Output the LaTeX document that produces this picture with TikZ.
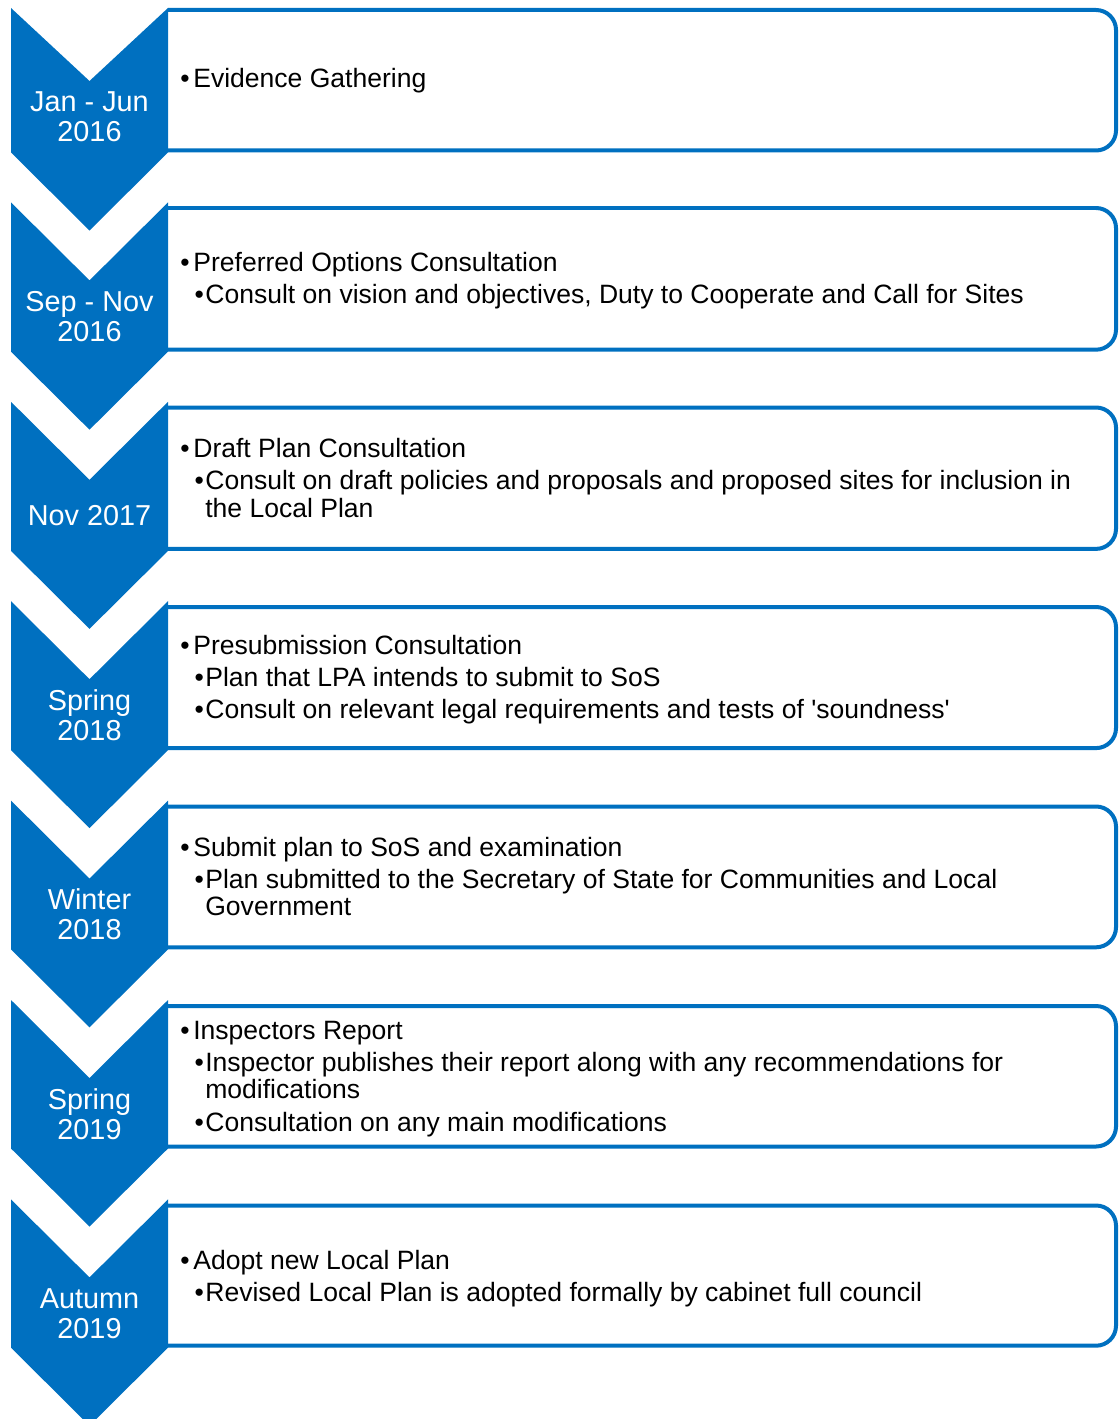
\documentclass[tikz,border=0pt]{standalone}
\usepackage{fontspec}
\setmainfont{Liberation Sans}
\usepackage{tikz}
\definecolor{planblue}{RGB}{0,112,192}

\begin{document}
\begin{tikzpicture}[x=0.02cm,y=-0.02cm,
        chev/.style={fill=planblue},
        stagebox/.style={draw=planblue,line width=0.08cm,rounded corners=0.4cm},
        when/.style={text=white,align=center,inner sep=0,font=\fontsize{16.4}{17.07}\selectfont},
        item/.style={anchor=base west,inner sep=0,font=\fontsize{15.1}{16}\selectfont},
        dot/.style={anchor=base,inner sep=0,font=\fontsize{15.1}{16}\selectfont}]
            \useasboundingbox (0,0) rectangle (1119,1419);
            \clip (0,0) rectangle (1119,1419);

            \foreach \k in {0,...,6}{
                \pgfmathsetmacro\btop{max(10,8.5+199.5*\k)}
                \pgfmathsetmacro\bbot{150.5+199.2*\k}
                \draw[stagebox] (168,\btop) -- (1116,\btop) -- (1116,\bbot) -- (168,\bbot);
            }

            \foreach \k/\when in {0/{Jan - Jun\\2016},1/{Sep - Nov\\2016},2/{Nov 2017},
                    3/{Spring\\2018},4/{Winter\\2018},5/{Spring\\2019},6/{Autumn\\2019}}{
                \pgfmathsetmacro\ytop{max(8,3+199.4*\k)}
                \pgfmathsetmacro\ynotch{81+199.4*\k}
                \pgfmathsetmacro\ybot{152.5+199.2*\k}
                \fill[chev] (11,\ytop) -- (89.5,\ynotch) -- (168,\ytop) -- (168,\ybot)
                    -- (89.5,\ybot+78) -- (11,\ybot) -- cycle;
                \node[when] (when\k) at (89.5,{117+199.4*\k}) {\when};
            }

            \foreach \y/\txt [count=\i] in {88/Evidence Gathering,271/Preferred Options Consultation,
                    457/Draft Plan Consultation,654/Presubmission Consultation,
                    856/Submit plan to SoS and examination,1039/Inspectors Report,1269/Adopt new Local Plan}{
                \node[dot] (dota\i) at (185,\y) {\textbullet};
                \node[item] (itema\i) at (193,\y) {\txt};
            }

            \foreach \y/\txt [count=\i] in {303/{Consult on vision and objectives, Duty to Cooperate and Call for Sites},
                    489/{Consult on draft policies and proposals and proposed sites for inclusion in},
                    686/{Plan that LPA intends to submit to SoS},
                    718/{Consult on relevant legal requirements and tests of \textquotesingle soundness\textquotesingle},
                    888/{Plan submitted to the Secretary of State for Communities and Local},
                    1071/{Inspector publishes their report along with any recommendations for},
                    1131/{Consultation on any main modifications},
                    1301/{Revised Local Plan is adopted formally by cabinet full council}}{
                \node[dot] (dotb\i) at (199.3,\y) {\textbullet};
                \node[item] (itemb\i) at (205,\y) {\txt};
            }

            \foreach \y/\txt [count=\i] in {517/the Local Plan,915/Government,1098/modifications}
                \node[item] (more\i) at (205,\y) {\txt};
        \end{tikzpicture}
\end{document}
